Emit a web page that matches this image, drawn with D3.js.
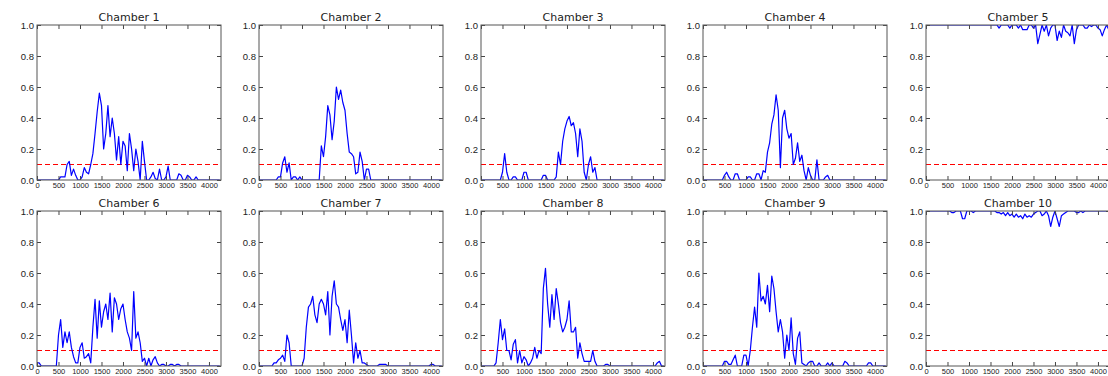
<!DOCTYPE html>
<html>
<head>
<meta charset="utf-8">
<script src="https://cdn.jsdelivr.net/npm/d3@7"></script>
<style>
  body { margin: 0; background: #fff; }
  svg { display: block; font-family: 'DejaVu Sans', sans-serif; }
</style>
</head>
<body>
<svg id="chart" width="1108" height="376"></svg>
<script>
// one sample every 50 time steps, starting at 0
const step = 50;
const xMax = 4280;
const threshold = 0.1;
const xTicks = [0, 500, 1000, 1500, 2000, 2500, 3000, 3500, 4000];
const yTicks = [0, 0.2, 0.4, 0.6, 0.8, 1.0];
const chamberNames = ['Chamber 1', 'Chamber 2', 'Chamber 3', 'Chamber 4', 'Chamber 5',
  'Chamber 6', 'Chamber 7', 'Chamber 8', 'Chamber 9', 'Chamber 10'];

const chamber1 = [
  0, 0, 0, 0, 0, 0, 0, 0, 0, 0,
  0, 0.02, 0.02, 0.02, 0.1, 0.12, 0.03, 0.07, 0.03, 0,
  0, 0.02, 0.08, 0.05, 0.04, 0.1, 0.17, 0.3, 0.44, 0.56,
  0.48, 0.2, 0.3, 0.48, 0.28, 0.4, 0.3, 0.13, 0.28, 0.1,
  0.25, 0.22, 0.06, 0.3, 0.2, 0.06, 0.2, 0.12, 0, 0.25,
  0.12, 0, 0, 0.02, 0.05, 0.01, 0, 0.07, 0, 0,
  0.02, 0.09, 0, 0, 0, 0, 0.04, 0.03, 0, 0,
  0.03, 0.02, 0, 0, 0.02, 0, 0, 0, 0, 0,
  0, 0, 0, 0, 0, 0];
const chamber2 = [
  0, 0, 0, 0, 0, 0, 0, 0, 0, 0.02,
  0.02, 0.11, 0.15, 0.05, 0.11, 0, 0.02, 0.02, 0, 0.02,
  0, 0, 0, 0, 0, 0, 0, 0, 0, 0.22,
  0.15, 0.28, 0.48, 0.42, 0.26, 0.38, 0.6, 0.52, 0.58, 0.5,
  0.45, 0.3, 0.18, 0.17, 0.15, 0.04, 0.05, 0.18, 0.12, 0,
  0.07, 0.07, 0, 0, 0, 0, 0, 0, 0, 0,
  0, 0, 0, 0, 0, 0, 0, 0, 0, 0,
  0, 0, 0, 0, 0, 0, 0, 0, 0, 0,
  0, 0, 0, 0, 0, 0];
const chamber3 = [
  0, 0, 0, 0, 0, 0, 0, 0, 0, 0,
  0.05, 0.17, 0.05, 0, 0, 0.02, 0.02, 0, 0, 0,
  0.05, 0.05, 0, 0, 0, 0, 0, 0, 0, 0.03,
  0.03, 0, 0, 0, 0, 0.02, 0.18, 0.1, 0.25, 0.33,
  0.38, 0.41, 0.35, 0.37, 0.3, 0.15, 0.33, 0.25, 0.05, 0,
  0.1, 0.15, 0.05, 0.08, 0, 0, 0, 0, 0, 0,
  0, 0, 0, 0, 0, 0, 0, 0, 0, 0,
  0, 0, 0, 0, 0, 0, 0, 0, 0, 0,
  0, 0, 0, 0, 0, 0];
const chamber4 = [
  0, 0, 0, 0, 0, 0, 0, 0, 0, 0,
  0.03, 0.05, 0.02, 0, 0, 0.04, 0.04, 0, 0, 0,
  0, 0.02, 0.02, 0, 0, 0.04, 0.04, 0, 0.06, 0.05,
  0.18, 0.24, 0.36, 0.42, 0.55, 0.45, 0.08, 0.4, 0.45, 0.33,
  0.27, 0.3, 0.1, 0.14, 0.24, 0.12, 0.16, 0.06, 0, 0.08,
  0.03, 0, 0, 0.13, 0, 0, 0, 0.02, 0.03, 0,
  0, 0, 0, 0, 0, 0, 0, 0, 0, 0,
  0, 0, 0, 0, 0, 0, 0, 0, 0, 0,
  0, 0, 0, 0, 0, 0];
const chamber5 = [
  1, 1, 1, 1, 1, 1, 1, 1, 1, 1,
  1, 1, 1, 1, 1, 1, 1, 1, 1, 1,
  1, 1, 1, 1, 1, 1, 1, 1, 1, 1,
  1, 1, 1, 1, 0.98, 1, 1, 1, 1, 0.98,
  1, 1, 1, 0.98, 1, 0.97, 0.97, 0.97, 1, 1,
  0.98, 1, 0.88, 0.94, 1, 0.96, 1, 0.93, 0.98, 1,
  1, 0.9, 0.96, 0.92, 1, 0.96, 0.95, 0.93, 1, 0.88,
  0.97, 1, 1, 1, 0.98, 0.98, 1, 0.99, 1, 1,
  0.98, 0.97, 0.93, 0.97, 1, 0.97];
const chamber6 = [
  0.02, 0.02, 0, 0, 0, 0, 0, 0, 0, 0,
  0.2, 0.3, 0.12, 0.22, 0.15, 0.22, 0.12, 0.06, 0.02, 0.02,
  0.12, 0.15, 0.05, 0.06, 0.08, 0.02, 0.25, 0.43, 0.18, 0.42,
  0.25, 0.35, 0.4, 0.3, 0.47, 0.22, 0.44, 0.4, 0.3, 0.37,
  0.4, 0.3, 0.22, 0.18, 0.1, 0.48, 0.18, 0.22, 0.15, 0.03,
  0.05, 0, 0.05, 0, 0.04, 0.06, 0.02, 0, 0.01, 0.01,
  0, 0, 0.01, 0.01, 0, 0.01, 0.01, 0, 0, 0,
  0, 0, 0, 0, 0, 0, 0, 0, 0, 0,
  0, 0, 0, 0, 0, 0];
const chamber7 = [
  0, 0, 0, 0, 0, 0, 0, 0.02, 0.02, 0.04,
  0.05, 0.07, 0.03, 0.2, 0.15, 0, 0, 0, 0, 0,
  0, 0.05, 0.25, 0.38, 0.4, 0.45, 0.33, 0.28, 0.4, 0.43,
  0.4, 0.33, 0.48, 0.2, 0.45, 0.55, 0.4, 0.38, 0.3, 0.23,
  0.3, 0.15, 0.36, 0.2, 0.02, 0.15, 0.05, 0.1, 0.02, 0.02,
  0.01, 0, 0, 0, 0, 0, 0.01, 0.01, 0.01, 0.01,
  0, 0, 0, 0, 0, 0, 0, 0, 0, 0,
  0, 0, 0, 0, 0, 0, 0, 0, 0, 0,
  0.01, 0.01, 0, 0, 0, 0];
const chamber8 = [
  0, 0, 0, 0, 0, 0, 0, 0.02, 0.15, 0.3,
  0.17, 0.24, 0.1, 0.1, 0.04, 0.14, 0.17, 0.02, 0.1, 0.02,
  0.06, 0.04, 0, 0.02, 0.05, 0.12, 0.05, 0.1, 0.08, 0.5,
  0.63, 0.4, 0.25, 0.46, 0.3, 0.5, 0.4, 0.28, 0.22, 0.25,
  0.3, 0.42, 0.22, 0.22, 0.25, 0.05, 0.15, 0.08, 0.03, 0.03,
  0.03, 0.03, 0.1, 0.03, 0, 0, 0, 0, 0.01, 0.01,
  0, 0, 0, 0, 0, 0, 0, 0, 0, 0,
  0, 0, 0, 0, 0, 0, 0, 0, 0, 0,
  0, 0, 0.02, 0.03, 0, 0];
const chamber9 = [
  0, 0, 0, 0, 0, 0, 0, 0, 0, 0,
  0.03, 0.03, 0.01, 0.01, 0.04, 0.07, 0, 0, 0, 0.07,
  0.07, 0, 0.1, 0.25, 0.38, 0.25, 0.6, 0.42, 0.45, 0.4,
  0.52, 0.35, 0.58, 0.5, 0.35, 0.22, 0.3, 0.22, 0.05, 0.2,
  0.1, 0.31, 0.08, 0.01, 0.18, 0.22, 0.02, 0.01, 0, 0.02,
  0.03, 0.03, 0, 0, 0.02, 0, 0, 0, 0.02, 0,
  0.02, 0, 0, 0, 0, 0, 0.03, 0.02, 0, 0,
  0, 0, 0, 0, 0, 0, 0, 0.02, 0.02, 0,
  0, 0, 0, 0, 0, 0];
const chamber10 = [
  1, 1, 1, 1, 1, 1, 1, 1, 1, 1,
  1, 1, 0.99, 0.99, 1, 1, 1, 0.95, 0.95, 1,
  1, 1, 0.99, 1, 1, 1, 1, 1, 1, 1,
  1, 1, 1, 0.99, 0.99, 0.98, 0.99, 0.97, 0.99, 0.97,
  0.98, 0.96, 0.98, 0.96, 0.97, 0.95, 0.98, 0.96, 0.97, 0.96,
  0.98, 0.99, 1, 1, 0.97, 0.98, 1, 0.97, 0.9, 0.96,
  1, 0.95, 0.9, 0.97, 0.98, 0.99, 1, 1, 1, 1,
  0.99, 0.99, 1, 0.99, 1, 1, 1, 1, 1, 1,
  1, 1, 1, 1, 1, 1];

const chambers = [chamber1, chamber2, chamber3, chamber4, chamber5,
  chamber6, chamber7, chamber8, chamber9, chamber10];

const svg = d3.select('#chart');
const panelW = 184;
const panelH = 155;
const colLeft = [37, 259, 481, 703, 926];
const rowTop = [25, 211];
const tickLen = 4;

const x = d3.scaleLinear().domain([0, xMax]).range([0, panelW]);
const y = d3.scaleLinear().domain([0, 1]).range([panelH, 0]);

const line = d3.line()
  .x((d, i) => x(i * step))
  .y(d => y(d));

chambers.forEach(function (values, i) {
  const g = svg.append('g')
    .attr('transform', 'translate(' + colLeft[i % 5] + ',' + rowTop[Math.floor(i / 5)] + ')');

  g.append('clipPath').attr('id', 'clip' + i)
    .append('rect').attr('width', panelW).attr('height', panelH);

  const plot = g.append('g').attr('clip-path', 'url(#clip' + i + ')');

  plot.append('line')
    .attr('x1', 0).attr('x2', panelW)
    .attr('y1', y(threshold)).attr('y2', y(threshold))
    .attr('stroke', '#ff0000')
    .attr('stroke-width', 1)
    .attr('stroke-dasharray', '5,3');

  plot.append('path')
    .datum(values)
    .attr('d', line)
    .attr('fill', 'none')
    .attr('stroke', '#0000ff')
    .attr('stroke-width', 1.2)
    .attr('stroke-linejoin', 'round');

  // ticks point inwards on all four sides
  const bottom = g.append('g').attr('transform', 'translate(0,' + panelH + ')')
    .call(d3.axisBottom(x).tickValues(xTicks).tickSizeInner(-tickLen).tickSizeOuter(0)
      .tickPadding(3).tickFormat(d3.format('d')));
  bottom.selectAll('text').style('font-size', '7.5px').attr('fill', '#222');
  g.append('g')
    .call(d3.axisTop(x).tickValues(xTicks).tickSizeInner(-tickLen).tickSizeOuter(0).tickFormat(''));

  const left = g.append('g')
    .call(d3.axisLeft(y).tickValues(yTicks).tickSizeInner(-tickLen).tickSizeOuter(0)
      .tickPadding(3).tickFormat(d3.format('.1f')));
  left.selectAll('text').style('font-size', '9.5px').attr('fill', '#222');
  g.append('g').attr('transform', 'translate(' + panelW + ',0)')
    .call(d3.axisRight(y).tickValues(yTicks).tickSizeInner(-tickLen).tickSizeOuter(0).tickFormat(''));

  g.selectAll('.domain').remove();
  g.selectAll('.tick line').attr('stroke', '#444');

  g.append('rect')
    .attr('width', panelW).attr('height', panelH)
    .attr('fill', 'none').attr('stroke', '#555').attr('stroke-width', 1);

  g.append('text')
    .attr('x', panelW / 2).attr('y', -4)
    .attr('text-anchor', 'middle')
    .style('font-size', '11px')
    .attr('fill', '#222')
    .text(chamberNames[i]);
});
</script>
</body>
</html>
